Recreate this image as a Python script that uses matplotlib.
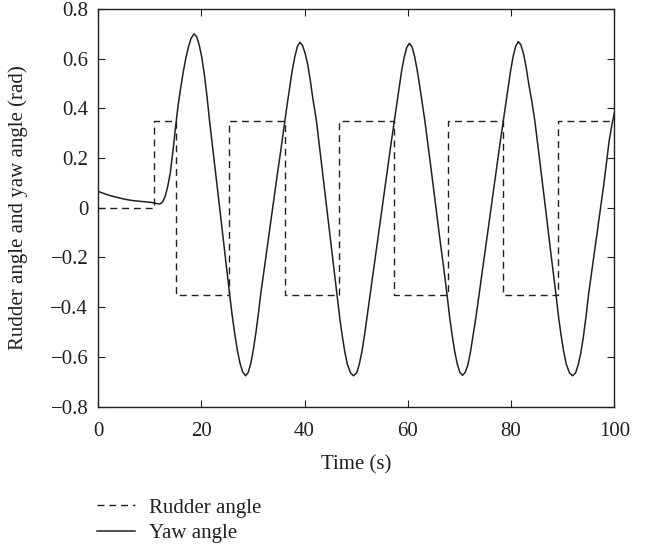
import numpy as np
import matplotlib
matplotlib.use('Agg')
import matplotlib.pyplot as plt

# rudder (relay) switching times and levels
rudder_t = [0, 10.9, 15.1, 25.4, 36.2, 46.6, 57.3, 67.7, 78.5, 89.1, 100]
rudder_v = [0, 0.35, -0.35, 0.35, -0.35, 0.35, -0.35, 0.35, -0.35, 0.35, 0.35]

# yaw angle
yaw_t = [
    0, 1, 2, 3, 4, 5, 6, 7, 8, 9, 10, 11, 11.5, 12, 12.5, 13, 13.5, 14, 14.5, 15,
    15.5, 16, 16.5, 17, 17.5, 18, 18.6, 19.1, 19.6, 20.1, 20.6, 21.1, 21.6,
    22.5, 23.5, 24.5, 25.5,
    26, 26.5, 27, 27.5, 28, 28.6, 29.1, 29.6, 30.1, 30.6, 31.1, 31.5,
    32.5, 33.5, 34.5, 35.5, 36.2,
    36.6, 37.1, 37.6, 38.1, 38.6, 39.1, 39.6, 40.1, 40.6, 41.1, 41.6, 42.3,
    43.3, 44.3, 45.3, 46.3,
    46.8, 47.3, 47.8, 48.3, 48.9, 49.5, 50.1, 50.6, 51.1, 51.6, 52.1, 52.7,
    53.7, 54.7, 55.7, 56.7, 57.4,
    57.8, 58.3, 58.8, 59.3, 59.8, 60.3, 60.8, 61.3, 61.8, 62.3, 62.8, 63.3,
    64.3, 65.3, 66.3, 67.0, 67.6,
    68.1, 68.6, 69.1, 69.6, 70.1, 70.6, 71.1, 71.6, 72.1, 72.6, 73.2, 73.8,
    74.8, 75.8, 76.8, 77.8, 78.5,
    78.9, 79.4, 79.9, 80.4, 80.9, 81.4, 81.9, 82.4, 82.9, 83.4, 84.0, 84.6,
    85.6, 86.6, 87.6, 88.7,
    89.2, 89.7, 90.2, 90.7, 91.3, 91.9, 92.5, 93.0, 93.5, 94.0, 94.5, 95.0,
    96, 97, 98, 99, 99.5, 100,
]
yaw_v = [
    0.066, 0.058, 0.051, 0.045, 0.040, 0.035, 0.031, 0.028, 0.026, 0.024, 0.022,
    0.019, 0.016, 0.015, 0.022, 0.045, 0.085, 0.14, 0.225, 0.32,
    0.41, 0.48, 0.545, 0.60, 0.645, 0.68, 0.699, 0.688, 0.655, 0.605, 0.535, 0.45, 0.35,
    0.19, 0.01, -0.17, -0.35,
    -0.435, -0.51, -0.575, -0.625, -0.66, -0.676, -0.662, -0.625, -0.57, -0.50, -0.42, -0.35,
    -0.20, -0.05, 0.10, 0.245, 0.35,
    0.41, 0.48, 0.55, 0.605, 0.648, 0.665, 0.653, 0.622, 0.578, 0.515, 0.44, 0.35,
    0.175, 0.0, -0.175, -0.35,
    -0.44, -0.515, -0.58, -0.63, -0.664, -0.676, -0.664, -0.63, -0.58, -0.515, -0.44, -0.35,
    -0.20, -0.05, 0.10, 0.25, 0.35,
    0.41, 0.48, 0.55, 0.605, 0.645, 0.661, 0.648, 0.61, 0.555, 0.49, 0.42, 0.35,
    0.19, 0.025, -0.14, -0.25, -0.35,
    -0.44, -0.515, -0.58, -0.63, -0.663, -0.674, -0.663, -0.635, -0.585, -0.52, -0.44, -0.35,
    -0.20, -0.05, 0.10, 0.25, 0.35,
    0.41, 0.48, 0.55, 0.608, 0.65, 0.668, 0.655, 0.62, 0.568, 0.50, 0.43, 0.35,
    0.18, 0.01, -0.165, -0.35,
    -0.44, -0.515, -0.58, -0.63, -0.664, -0.676, -0.664, -0.632, -0.585, -0.52, -0.44, -0.35,
    -0.20, -0.05, 0.10, 0.27, 0.33, 0.38,
]

x_ticks = [0, 20, 40, 60, 80, 100]
y_ticks = [-0.8, -0.6, -0.4, -0.2, 0, 0.2, 0.4, 0.6, 0.8]
y_tick_labels = ['\u22120.8', '\u22120.6', '\u22120.4', '\u22120.2', '0', '0.2', '0.4', '0.6', '0.8']

plt.rcParams['font.family'] = ['Liberation Serif', 'DejaVu Serif']
plt.rcParams['font.size'] = 15

ink = '#231f20'

fig = plt.figure(figsize=(6.46, 5.46), dpi=100)
ax = fig.add_axes([0.1517, 0.2553, 0.7993, 0.7286])

ax.step(rudder_t, rudder_v, where='post', color=ink, linewidth=1.0,
        linestyle=(0, (5, 3.5)), label='Rudder angle')
ax.plot(yaw_t, yaw_v, color=ink, linewidth=1.1, label='Yaw angle')

ax.set_xlim(0, 100)
ax.set_ylim(-0.8, 0.8)
ax.set_xticks(x_ticks)
ax.set_yticks(y_ticks)
ax.set_yticklabels(y_tick_labels)
ax.tick_params(direction='in', top=True, right=True, length=5, width=0.8,
               colors=ink, labelsize=15)
ax.tick_params(axis='x', pad=11)
ax.tick_params(axis='y', pad=7)
for s in ax.spines.values():
    s.set_linewidth(1.0)
    s.set_color(ink)

ax.set_xlabel('Time (s)', fontsize=15, color=ink, labelpad=10)
ax.set_ylabel('Rudder angle and yaw angle (rad)', fontsize=15, color=ink, labelpad=16)

leg = fig.legend(loc='upper left', bbox_to_anchor=(97 / 646, 1 - 498 / 546),
                 bbox_transform=fig.transFigure, frameon=False, borderpad=0,
                 borderaxespad=0, handlelength=1.8, handletextpad=0.7,
                 labelspacing=0.3, fontsize=15)
for t in leg.get_texts():
    t.set_color(ink)

fig.savefig('out.png', dpi=100)
